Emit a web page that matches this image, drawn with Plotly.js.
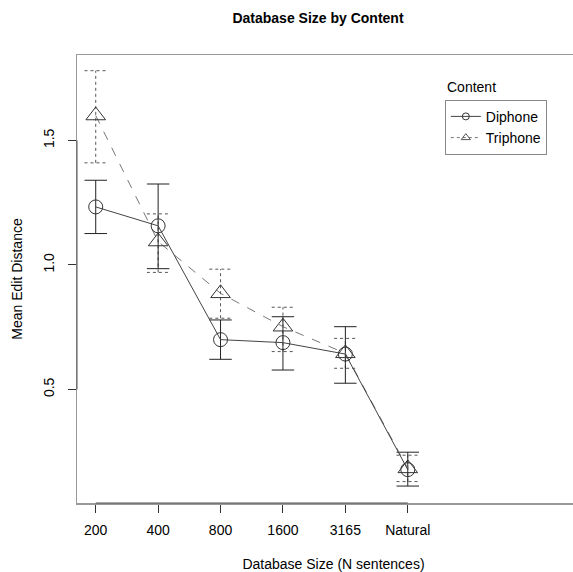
<!DOCTYPE html>
<html>
<head>
<meta charset="utf-8">
<script src="https://cdn.plot.ly/plotly-3.0.1.min.js"></script>
<style>
html,body{margin:0;padding:0;overflow:hidden;background:#fff;}
#chart{width:600px;height:572px;}
</style>
</head>
<body>
<div id="chart"></div>
<script>
// ---- data ----
var categories = ['200', '400', '800', '1600', '3165', 'Natural'];
var diphoneMean = [1.233, 1.157, 0.700, 0.688, 0.642, 0.178];
var diphoneLow  = [1.126, 0.985, 0.621, 0.578, 0.525, 0.112];
var diphoneHigh = [1.340, 1.325, 0.779, 0.792, 0.752, 0.248];
var triphoneMean = [1.600, 1.094, 0.886, 0.752, 0.645, 0.183];
var triphoneLow  = [1.410, 0.970, 0.786, 0.652, 0.585, 0.130];
var triphoneHigh = [1.780, 1.205, 0.983, 0.830, 0.705, 0.236];
var yTicks = [0.5, 1.0, 1.5];
var seriesNames = ['Diphone', 'Triphone'];

var xs = categories.map(function(c, i){ return i + 1; });
var CAP = 0.18;

function errTrace(lo, hi, color, dash){
  var x = [], y = [];
  for (var i = 0; i < xs.length; i++){
    x.push(xs[i], xs[i], null); y.push(lo[i], hi[i], null);
    x.push(xs[i]-CAP, xs[i]+CAP, null); y.push(lo[i], lo[i], null);
    x.push(xs[i]-CAP, xs[i]+CAP, null); y.push(hi[i], hi[i], null);
  }
  return {x:x, y:y, mode:'lines', type:'scatter', showlegend:false, hoverinfo:'skip',
          line:{color:color, width:1, dash:dash}};
}

var triStyle = {line:{color:'#777', width:1, dash:'dash'}, mcolor:'#333'};
var diStyle = {line:{color:'#444', width:1}, mcolor:'#333'};

var traces = [
  errTrace(triphoneLow, triphoneHigh, '#555', '3px,3px'),
  errTrace(diphoneLow, diphoneHigh, '#222', 'solid'),
  {x:xs, y:triphoneMean, name:seriesNames[1], type:'scatter', mode:'lines+markers', showlegend:false,
   line:triStyle.line,
   marker:{symbol:'triangle-up-open', size:17, color:triStyle.mcolor, line:{width:1, color:triStyle.mcolor}}},
  {x:xs, y:diphoneMean, name:seriesNames[0], type:'scatter', mode:'lines+markers', showlegend:false,
   line:diStyle.line,
   marker:{symbol:'circle-open', size:14, color:diStyle.mcolor, line:{width:1, color:diStyle.mcolor}}},
  // legend entries (small symbols, as in the reference legend)
  {x:[null], y:[null], name:seriesNames[0], type:'scatter', mode:'lines+markers',
   line:{color:'#444', width:1},
   marker:{symbol:'circle-open', size:7, color:'#333', line:{width:1, color:'#333'}}},
  {x:[null], y:[null], name:seriesNames[1], type:'scatter', mode:'lines+markers',
   line:{color:'#777', width:1, dash:'3px,3px'},
   marker:{symbol:'triangle-up-open', size:8, color:'#555', line:{width:1, color:'#555'}}}
];

var FONT = 'Liberation Sans, Arial, Helvetica, sans-serif';
var layout = {
  width:600, height:572,
  margin:{l:77, r:10, t:55, b:69},
  paper_bgcolor:'#fff', plot_bgcolor:'#fff',
  font:{family:FONT, size:14, color:'#000'},
  title:{text:'<b>Database Size by Content</b>', x:0.53, xanchor:'center', y:0.968, yanchor:'middle',
         font:{family:FONT, size:14, color:'#000'}},
  showlegend:true,
  legend:{x:0.717, y:0.9, xanchor:'left', yanchor:'top', traceorder:'normal',
          bordercolor:'#888', borderwidth:1, bgcolor:'#fff',
          font:{family:FONT, size:14, color:'#000'}, itemwidth:30, tracegroupgap:0},
  xaxis:{range:[0.70, 8.92], tickvals:xs, ticktext:categories, showgrid:false, zeroline:false,
         showline:true, mirror:true, linecolor:'#999', linewidth:1.5,
         ticks:'outside', ticklen:8, tickcolor:'#333', tickwidth:1, ticklabelstandoff:6,
         tickfont:{family:FONT, size:14, color:'#000'},
         title:{text:'Database Size (N sentences)', standoff:26, font:{family:FONT, size:14, color:'#000'}}},
  yaxis:{range:[0.044, 1.843], tickvals:yTicks, ticktext:['0.5','1.0','1.5'], showgrid:false, zeroline:false,
         showline:true, mirror:true, linecolor:'#999', linewidth:1.5,
         ticks:'outside', ticklen:8, tickcolor:'#333', tickwidth:1, tickangle:-90, ticklabelstandoff:8,
         tickfont:{family:FONT, size:14, color:'#000'},
         title:{text:'Mean Edit Distance', standoff:15, font:{family:FONT, size:14, color:'#000'}}},
  shapes:[
    {type:'line', xref:'x', yref:'paper', x0:xs[0], x1:xs[xs.length-1], y0:0, y1:0, line:{color:'#555', width:1}},
    {type:'line', xref:'paper', yref:'y', x0:0, x1:0, y0:yTicks[0], y1:yTicks[yTicks.length-1], line:{color:'#555', width:1}}
  ],
  annotations:[
    {text:'Content', xref:'paper', yref:'paper', x:0.717, y:0.9, xanchor:'left', yanchor:'bottom',
     yshift:3, showarrow:false, font:{family:FONT, size:14, color:'#000'}}
  ]
};

Plotly.newPlot('chart', traces, layout, {displayModeBar:false, staticPlot:true});
</script>
</body>
</html>
